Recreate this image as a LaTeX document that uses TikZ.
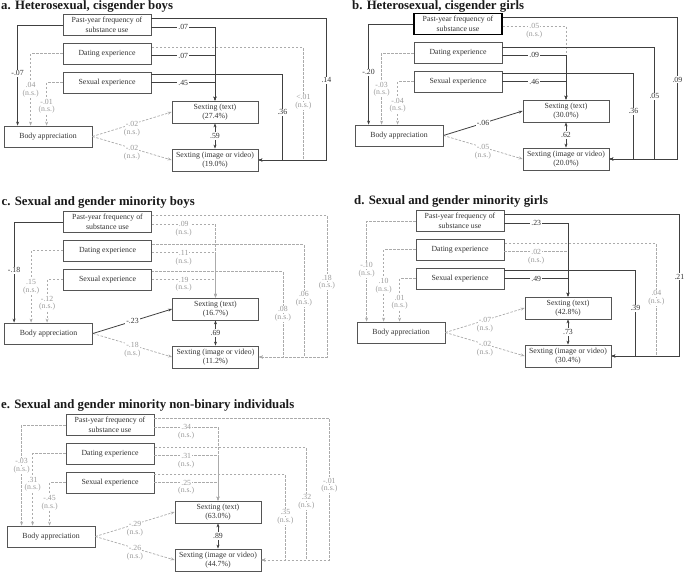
\documentclass[tikz,border=0pt]{standalone}
\usepackage{fontspec}
\setmainfont{Liberation Serif}
\usetikzlibrary{arrows.meta, positioning}
\definecolor{inkDark}{HTML}{333333}
\definecolor{inkDim}{HTML}{9A9A9A}
\definecolor{lineDark}{HTML}{404040}
\definecolor{lineDim}{HTML}{ABABAB}
\definecolor{boxInk}{HTML}{555555}
\tikzset{
  vbox/.style={draw=boxInk, line width=0.8pt, fill=white, minimum width=88pt, minimum height=21pt,
               inner sep=1pt, align=center, font=\fontsize{7.8}{9.5}\selectfont, text=inkDark},
  obox/.style={vbox, minimum width=86pt, minimum height=22pt},
  ptitle/.style={anchor=west, inner sep=0pt, font=\fontsize{12.8}{14}\selectfont\bfseries, text=black!90},
  sig/.style={draw=lineDark, line width=0.8pt},
  ns/.style={draw=lineDim, line width=0.7pt, dash pattern=on 2.5pt off 1.5pt},
  coef/.style={fill=white, inner sep=1pt, font=\fontsize{7.8}{9}\selectfont, text=inkDark},
  nscoef/.style={coef, text=inkDim, label={[nsnote]below:(n.s.)}},
  nsnote/.style={fill=white, inner sep=0.5pt, font=\fontsize{7.8}{9}\selectfont, text=inkDim},
}

\begin{document}
\begin{tikzpicture}[x=1pt, y=-1pt, >={Stealth[length=4pt, width=3pt]}]
\useasboundingbox (0,0) rectangle (685,572);

% a. heterosexual, cisgender boys
\begin{scope}[shift={(0,0)}]
\node[ptitle] (a-title) at (1,6.8) {a. Heterosexual, cisgender boys};
\node[vbox] (a-past) at (107,25) {Past-year frequency of\\substance use};
\node[vbox, below=7pt of a-past] (a-date) {Dating experience};
\node[vbox, below=7pt of a-date] (a-sex) {Sexual experience};
\node[vbox] (a-body) at (48,136.5) {Body appreciation};
\node[obox] (a-text) at (215,112) {Sexting (text)\\(27.4\%)};
\node[obox] (a-img) at (215,160) {Sexting (image or video)\\(19.0\%)};
\draw[ns,->] (a-date.west) -| node[pos=.72,nscoef]{.04} ([xshift=27pt]a-body.north west);
\draw[ns,->] (a-sex.west) -| node[pos=.72,nscoef]{-.01} ([xshift=43pt]a-body.north west);
\draw[sig,->] (a-past.west) -| node[pos=.74,coef]{-.07} ([xshift=14pt]a-body.north west);
\draw[sig,->] ([yshift=-2pt]a-past.east) -| node[pos=.25,coef]{.07} (a-text.north);
\draw[sig,->] ([yshift=-2pt]a-date.east) -| node[pos=.25,coef]{.07} (a-text.north);
\draw[sig,->] (a-sex.east) -| node[pos=.25,coef]{.45} (a-text.north);
\draw[ns,<-] (a-img.east) -- ++(45,0) |- node[pos=.28,nscoef]{<.01} ([yshift=6pt]a-date.east);
\draw[sig,<-] (a-img.east) -- ++(68,0) |- node[pos=.28,coef]{.14} ([yshift=7pt]a-past.east);
\draw[sig,<-] (a-img.east) -- ++(24,0) |- node[pos=.28,coef]{.36} ([yshift=8pt]a-sex.east);
\draw[ns,->] (a-body.east) -- node[nscoef]{-.02} (a-text.west);
\draw[ns,->] (a-body.east) -- node[nscoef]{-.02} (a-img.west);
\draw[sig,<->] (a-text) -- node[coef]{.59} (a-img);
\end{scope}

% b. heterosexual, cisgender girls
\begin{scope}[shift={(351,-1)}]
\node[ptitle] (b-title) at (1,7.8) {b. Heterosexual, cisgender girls};
\node[vbox, draw=black, line width=1.3pt] (b-past) at (107,25) {Past-year frequency of\\substance use};
\node[vbox, below=7pt of b-past] (b-date) {Dating experience};
\node[vbox, below=7pt of b-date] (b-sex) {Sexual experience};
\node[vbox] (b-body) at (48,136.5) {Body appreciation};
\node[obox] (b-text) at (215,112) {Sexting (text)\\(30.0\%)};
\node[obox] (b-img) at (215,160) {Sexting (image or video)\\(20.0\%)};
\draw[ns,->] (b-date.west) -| node[pos=.72,nscoef]{-.03} ([xshift=27pt]b-body.north west);
\draw[ns,->] (b-sex.west) -| node[pos=.72,nscoef]{-.04} ([xshift=43pt]b-body.north west);
\draw[sig,->] (b-past.west) -| node[pos=.74,coef]{-.20} ([xshift=14pt]b-body.north west);
\draw[ns,->] ([yshift=-2pt]b-past.east) -| node[pos=.25,nscoef]{.05} (b-text.north);
\draw[sig,->] ([yshift=-2pt]b-date.east) -| node[pos=.25,coef]{.09} (b-text.north);
\draw[sig,->] (b-sex.east) -| node[pos=.25,coef]{.46} (b-text.north);
\draw[sig,<-] (b-img.east) -- ++(45,0) |- node[pos=.28,coef]{.05} ([yshift=6pt]b-date.east);
\draw[sig,<-] (b-img.east) -- ++(68,0) |- node[pos=.28,coef]{.09} ([yshift=7pt]b-past.east);
\draw[sig,<-] (b-img.east) -- ++(24,0) |- node[pos=.28,coef]{.36} ([yshift=8pt]b-sex.east);
\draw[ns,->] (b-body.east) -- node[nscoef]{-.05} (b-img.west);
\draw[sig,->] (b-body.east) -- node[coef]{-.06} (b-text.west);
\draw[sig,<->] (b-text) -- node[coef]{.62} (b-img);
\end{scope}

% c. sexual and gender minority boys
\begin{scope}[shift={(0.5,197)}]
\node[ptitle] (c-title) at (1,5.5) {c. Sexual and gender minority boys};
\node[vbox] (c-past) at (107,25) {Past-year frequency of\\substance use};
\node[vbox, below=7pt of c-past] (c-date) {Dating experience};
\node[vbox, below=7pt of c-date] (c-sex) {Sexual experience};
\node[vbox] (c-body) at (48,136.5) {Body appreciation};
\node[obox] (c-text) at (215,112) {Sexting (text)\\(16.7\%)};
\node[obox] (c-img) at (215,160) {Sexting (image or video)\\(11.2\%)};
\draw[ns,->] (c-date.west) -| node[pos=.72,nscoef]{.15} ([xshift=27pt]c-body.north west);
\draw[ns,->] (c-sex.west) -| node[pos=.72,nscoef]{-.12} ([xshift=43pt]c-body.north west);
\draw[sig,->] (c-past.west) -| node[pos=.74,coef]{-.18} ([xshift=10pt]c-body.north west);
\draw[ns,->] ([yshift=-2pt]c-past.east) -| node[pos=.25,nscoef]{.09} (c-text.north);
\draw[ns,->] ([yshift=-2pt]c-date.east) -| node[pos=.25,nscoef]{.11} (c-text.north);
\draw[ns,->] (c-sex.east) -| node[pos=.25,nscoef]{.19} (c-text.north);
\draw[ns,<-] (c-img.east) -- ++(45,0) |- node[pos=.28,nscoef]{.06} ([yshift=6pt]c-date.east);
\draw[ns,<-] (c-img.east) -- ++(68,0) |- node[pos=.28,nscoef]{.18} ([yshift=7pt]c-past.east);
\draw[ns,<-] (c-img.east) -- ++(24,0) |- node[pos=.28,nscoef]{.08} ([yshift=8pt]c-sex.east);
\draw[ns,->] (c-body.east) -- node[nscoef]{-.18} (c-img.west);
\draw[sig,->] (c-body.east) -- node[coef]{-.23} (c-text.west);
\draw[sig,<->] (c-text) -- node[coef]{.69} (c-img);
\end{scope}

% d. sexual and gender minority girls
\begin{scope}[shift={(353,196)}]
\node[ptitle] (d-title) at (1,5.5) {d. Sexual and gender minority girls};
\node[vbox] (d-past) at (107,25) {Past-year frequency of\\substance use};
\node[vbox, below=7pt of d-past] (d-date) {Dating experience};
\node[vbox, below=7pt of d-date] (d-sex) {Sexual experience};
\node[vbox] (d-body) at (48,136.5) {Body appreciation};
\node[obox] (d-text) at (215,112) {Sexting (text)\\(42.8\%)};
\node[obox] (d-img) at (215,160) {Sexting (image or video)\\(30.4\%)};
\draw[ns,->] (d-past.west) -| node[pos=.72,nscoef]{-.10} ([xshift=10pt]d-body.north west);
\draw[ns,->] (d-date.west) -| node[pos=.72,nscoef]{.10} ([xshift=27pt]d-body.north west);
\draw[ns,->] (d-sex.west) -| node[pos=.72,nscoef]{.01} ([xshift=43pt]d-body.north west);
\draw[ns,->] ([yshift=-2pt]d-date.east) -| node[pos=.25,nscoef]{.02} (d-text.north);
\draw[sig,->] ([yshift=-2pt]d-past.east) -| node[pos=.25,coef]{.23} (d-text.north);
\draw[sig,->] (d-sex.east) -| node[pos=.25,coef]{.49} (d-text.north);
\draw[ns,<-] (d-img.east) -- ++(45,0) |- node[pos=.28,nscoef]{.04} ([yshift=6pt]d-date.east);
\draw[sig,<-] (d-img.east) -- ++(68,0) |- node[pos=.28,coef]{.21} ([yshift=7pt]d-past.east);
\draw[sig,<-] (d-img.east) -- ++(24,0) |- node[pos=.28,coef]{.39} ([yshift=8pt]d-sex.east);
\draw[ns,->] (d-body.east) -- node[nscoef]{-.07} (d-text.west);
\draw[ns,->] (d-body.east) -- node[nscoef]{-.02} (d-img.west);
\draw[sig,<->] (d-text) -- node[coef]{.73} (d-img);
\end{scope}

% e. sexual and gender minority non-binary individuals
\begin{scope}[shift={(3,400)}]
\node[ptitle] (e-title) at (-2,5.5) {e. Sexual and gender minority non-binary individuals};
\node[vbox] (e-past) at (107,25) {Past-year frequency of\\substance use};
\node[vbox, below=7pt of e-past] (e-date) {Dating experience};
\node[vbox, below=7pt of e-date] (e-sex) {Sexual experience};
\node[vbox] (e-body) at (48,136.5) {Body appreciation};
\node[obox] (e-text) at (215,112) {Sexting (text)\\(63.0\%)};
\node[obox] (e-img) at (215,160) {Sexting (image or video)\\(44.7\%)};
\draw[ns,->] (e-past.west) -| node[pos=.68,nscoef]{-.03} ([xshift=15pt]e-body.north west);
\draw[ns,->] (e-date.west) -| node[pos=.68,nscoef]{.31} ([xshift=26pt]e-body.north west);
\draw[ns,->] (e-sex.west) -| node[pos=.68,nscoef]{-.45} ([xshift=43pt]e-body.north west);
\draw[ns,->] ([yshift=-2pt]e-past.east) -| node[pos=.25,nscoef]{.34} (e-text.north);
\draw[ns,->] ([yshift=-2pt]e-date.east) -| node[pos=.25,nscoef]{.31} (e-text.north);
\draw[ns,->] (e-sex.east) -| node[pos=.25,nscoef]{.25} (e-text.north);
\draw[ns,<-] (e-img.east) -- ++(45,0) |- node[pos=.28,nscoef]{.32} ([yshift=6pt]e-date.east);
\draw[ns,<-] (e-img.east) -- ++(68,0) |- node[pos=.28,nscoef]{-.01} ([yshift=7pt]e-past.east);
\draw[ns,<-] (e-img.east) -- ++(24,0) |- node[pos=.28,nscoef]{.35} ([yshift=8pt]e-sex.east);
\draw[ns,->] (e-body.east) -- node[nscoef]{-.29} (e-text.west);
\draw[ns,->] (e-body.east) -- node[nscoef]{-.26} (e-img.west);
\draw[sig,<->] (e-text) -- node[coef]{.89} (e-img);
\end{scope}
\end{tikzpicture}
\end{document}
